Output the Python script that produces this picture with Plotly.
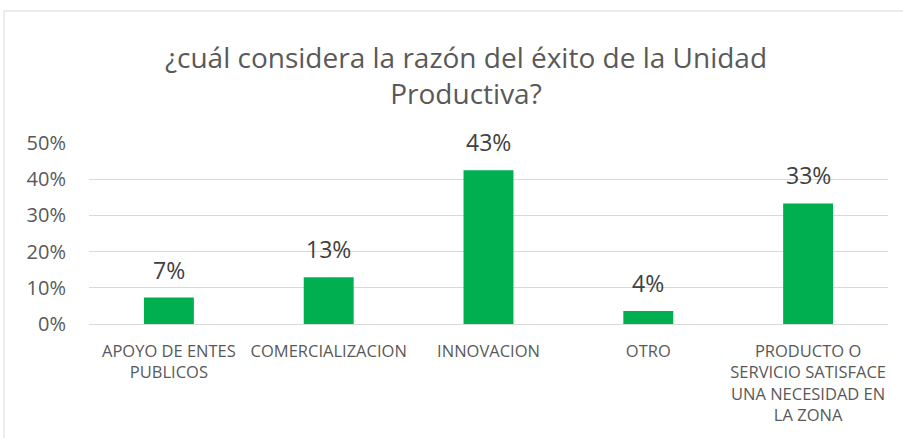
import plotly.graph_objects as go

categories = ["APOYO DE ENTES<br>PUBLICOS", "COMERCIALIZACION", "INNOVACION", "OTRO",
              "PRODUCTO O<br>SERVICIO SATISFACE<br>UNA NECESIDAD EN<br>LA ZONA"]
values = [0.073, 0.129, 0.425, 0.036, 0.333]
labels = ["7%", "13%", "43%", "4%", "33%"]
tick_vals = [0, 0.1, 0.2, 0.3, 0.4, 0.5]
tick_text = ["0%", "10%", "20%", "30%", "40%", "50%"]

FONT = "Open Sans"
fig = go.Figure(go.Bar(x=categories, y=values, marker_color="#00B050",
                       marker_line_width=0, hoverinfo="skip"))

for c, v, t in zip(categories, values, labels):
    fig.add_annotation(x=c, y=v, text=t, showarrow=False, yanchor="bottom", yshift=10,
                       font=dict(family=FONT, size=23, color="#404040"))

L, R, T, B = 89, 15, 143, 114
W, H = 903, 438
pw, ph = W - L - R, H - T - B
def px(x): return (x - L) / pw
def py(y): return (H - B - y) / ph

fig.add_shape(type="rect", xref="paper", yref="paper", x0=px(4), x1=px(906), y0=py(441), y1=py(11),
              line=dict(color="#d9d9d9", width=1), fillcolor="rgba(0,0,0,0)", layer="below")

fig.update_layout(
    width=W, height=H, margin=dict(l=L, r=R, t=T, b=B),
    paper_bgcolor="white", plot_bgcolor="white", showlegend=False,
    bargap=0.6875,
    title=dict(text="¿cuál considera la razón del éxito de la Unidad<br>Productiva?",
               xref="container", x=466 / W, xanchor="center",
               yref="container", y=1 - 68 / H, yanchor="middle",
               font=dict(family=FONT, size=28, color="#595959")),
    font=dict(family=FONT, color="#595959"),
    xaxis=dict(showgrid=False, showline=True, linecolor="#d9d9d9", linewidth=1,
               tickfont=dict(family=FONT, size=16.5, color="#595959"), ticklabelstandoff=12,
               fixedrange=True),
    yaxis=dict(range=[0, 0.5], tickvals=tick_vals, ticktext=tick_text, showgrid=True,
               gridcolor="#d9d9d9", gridwidth=1, zeroline=False, showline=False,
               tickfont=dict(family=FONT, size=20, color="#595959"), ticklabelstandoff=22,
               fixedrange=True),
)
fig.write_html("out.html", config={"displayModeBar": False},
               post_script="document.body.style.margin='0';document.body.style.overflow='hidden';")
